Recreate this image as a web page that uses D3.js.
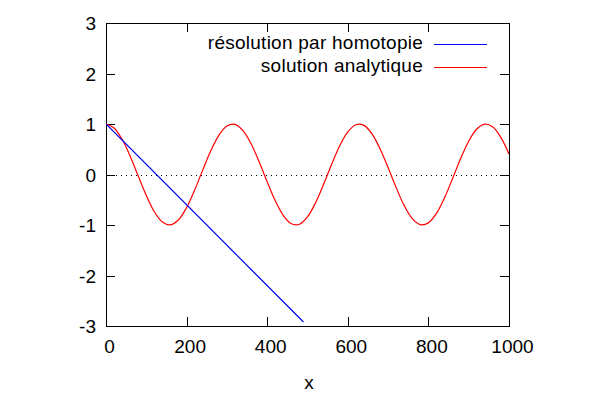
<!DOCTYPE html>
<html><head><meta charset="utf-8">
<script src="https://cdn.jsdelivr.net/npm/d3@7"></script>
<style>body{margin:0;background:#fff}svg{display:block}text{font-family:"Liberation Sans",Arial,sans-serif;font-size:19px;fill:#000}</style>
</head><body>
<svg id="c" width="600" height="400"></svg>
<script>
const xTicks = [0, 200, 400, 600, 800, 1000];
const yTicks = [-3, -2, -1, 0, 1, 2, 3];
const seriesNames = ["résolution par homotopie", "solution analytique"];
const homotopyX = [0, 490];
const homotopyY = [1, -2.92];
const analyticX = [0,20,40,60,80,100,120,140,160,180,200,220,240,260,280,300,320,340,360,380,400,420,440,460,480,500,520,540,560,580,600,620,640,660,680,700,720,740,760,780,800,820,840,860,880,900,920,940,960,980,1000];
const analyticY = [1.000,0.921,0.697,0.362,-0.029,-0.416,-0.737,-0.942,-0.998,-0.897,-0.654,-0.307,0.087,0.468,0.776,0.960,0.993,0.869,0.608,0.251,-0.146,-0.519,-0.811,-0.975,-0.985,-0.839,-0.561,-0.194,0.203,0.569,0.844,0.986,0.973,0.806,0.512,0.137,-0.260,-0.616,-0.874,-0.994,-0.958,-0.770,-0.461,-0.079,0.316,0.660,0.901,0.999,0.939,0.731,0.408];

const FS = 19;
const svg = d3.select("#c");
const L = 106, R = 509, T = 23, B = 326;
const x = d3.scaleLinear().domain([0, 1000]).range([L, R]);
const y = d3.scaleLinear().domain([-3, 3]).range([B, T]);
const fmt = d => String(d).replace("\u2212", "-");

svg.append("clipPath").attr("id","clip").append("rect").attr("x",L).attr("y",T).attr("width",R-L).attr("height",B-T);

// zero line
svg.append("line").attr("x1",x(0)).attr("x2",x(1000)).attr("y1",y(0)+0.5).attr("y2",y(0)+0.5)
  .attr("stroke","#000").attr("stroke-width",1).attr("stroke-dasharray","1,4").attr("shape-rendering","crispEdges");

const tl = 9;
const gB = svg.append("g").attr("transform",`translate(0,${B})`).call(d3.axisBottom(x).tickValues(xTicks).tickSize(-tl).tickPadding(13.5).tickFormat(fmt));
const gT = svg.append("g").attr("transform",`translate(0,${T})`).call(d3.axisTop(x).tickValues(xTicks).tickSize(-tl).tickFormat(""));
const gL = svg.append("g").attr("transform",`translate(${L},0)`).call(d3.axisLeft(y).tickValues(yTicks).tickSize(-tl).tickPadding(10).tickFormat(fmt));
const gR = svg.append("g").attr("transform",`translate(${R},0)`).call(d3.axisRight(y).tickValues(yTicks).tickSize(-tl).tickFormat(""));
[gB,gT,gL,gR].forEach(g=>{
  g.select(".domain").remove();
  g.selectAll("line").attr("stroke","#000").attr("shape-rendering","crispEdges");
  g.selectAll("text").attr("font-size",FS+"px").attr("font-family","Liberation Sans, Arial, sans-serif").attr("fill","#000");
});
gB.selectAll("text").attr("dx", 3);
gL.selectAll("text").attr("dy","0.35em");
svg.append("rect").attr("x",L+0.5).attr("y",T+0.5).attr("width",R-L).attr("height",B-T)
  .attr("fill","none").attr("stroke","#000").attr("shape-rendering","crispEdges");

svg.append("text").attr("x",309).attr("y",389).attr("text-anchor","middle").text("x");

const line = d3.line().x(d=>x(d[0])).y(d=>y(d[1]));
const analytic = analyticX.map((v,i)=>[v, analyticY[i]]);
const homotopy = homotopyX.map((v,i)=>[v, homotopyY[i]]);
const lineC = d3.line().x(d=>x(d[0])).y(d=>y(d[1])).curve(d3.curveCatmullRom.alpha(0.5));
const gp = svg.append("g").attr("clip-path","url(#clip)");
gp.append("path").attr("d",lineC(analytic)).attr("fill","none").attr("stroke","#ff0000").attr("stroke-width",1.2);
gp.append("path").attr("d",line(homotopy)).attr("fill","none").attr("stroke","#0000ff").attr("stroke-width",1.2);

// legend
const colors = ["#0000ff","#ff0000"];
seriesNames.forEach((n,i)=>{
  const yy = 44 + i*23;
  svg.append("text").attr("x",423).attr("y",yy+4.5).attr("text-anchor","end").attr("letter-spacing","0.25px").text(n);
  svg.append("line").attr("x1",434).attr("x2",487).attr("y1",yy+0.5).attr("y2",yy+0.5).attr("stroke",colors[i]).attr("stroke-width",1).attr("shape-rendering","crispEdges");
});
</script>
</body></html>
